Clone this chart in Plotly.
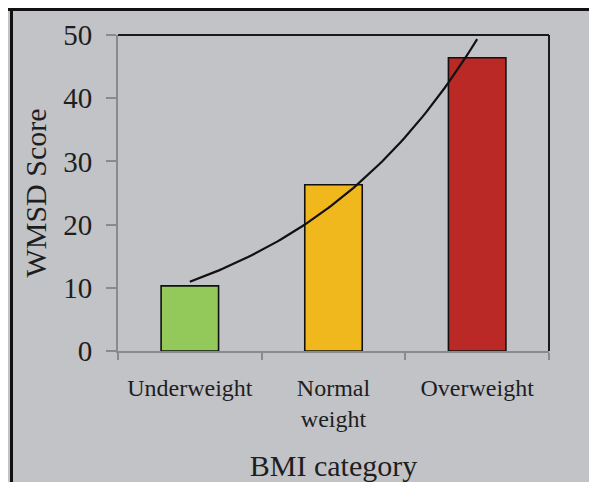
import numpy as np
import plotly.graph_objects as go

categories = ["Underweight", "Normal<br>weight", "Overweight"]
scores = [10.3, 26.3, 46.4]
bar_colors = ["#92c95a", "#f1b81d", "#ba2925"]
y_ticks = [0, 10, 20, 30, 40, 50]

x_pos = np.arange(1, len(categories) + 1)

# exponential trendline fitted to the bar values (as in a spreadsheet trendline)
b, ln_a = np.polyfit(x_pos, np.log(scores), 1)
xt = np.linspace(x_pos[0], x_pos[-1], 80)
yt = np.exp(ln_a) * np.exp(b * xt)

BG = "#c2c3c7"
FONT = "Liberation Serif"
TXT = "#1e1e1e"

fig = go.Figure()
fig.add_trace(go.Bar(
    x=x_pos, y=scores, width=0.4,
    marker=dict(color=bar_colors, line=dict(color="#111111", width=1.6)),
    showlegend=False, hoverinfo="skip"))
fig.add_trace(go.Scatter(
    x=xt, y=yt, mode="lines", line=dict(color="#111111", width=2.2),
    showlegend=False, hoverinfo="skip"))

L, R, T, B = 110, 56, 27, 139
W, H = 597, 482
pw, ph = W - L - R, H - T - B

def px_x(px):
    return (px - L) / pw

def px_y(py):
    return (H - B - py) / ph

shapes = [
    # top and right frame lines of plot area
    dict(type="line", xref="paper", yref="paper", x0=0, x1=1, y0=1, y1=1,
         line=dict(color="#1a1a1a", width=2)),
    dict(type="line", xref="paper", yref="paper", x0=1, x1=1, y0=0, y1=1,
         line=dict(color="#1a1a1a", width=2)),
    # outer frame black lines (top and left edges of the figure)
    dict(type="line", xref="paper", yref="paper", x0=px_x(0), x1=px_x(W),
         y0=px_y(1.5), y1=px_y(1.5), line=dict(color="#111111", width=3)),
    dict(type="line", xref="paper", yref="paper", x0=px_x(3.5), x1=px_x(3.5),
         y0=px_y(0), y1=px_y(H), line=dict(color="#111111", width=3)),
]

fig.update_layout(
    width=W, height=H,
    margin=dict(l=L, r=R, t=T, b=B, pad=0),
    paper_bgcolor=BG, plot_bgcolor=BG,
    font=dict(family=FONT, color=TXT),
    shapes=shapes,
    xaxis=dict(
        range=[0.5, 3.5], tickvals=list(x_pos), ticktext=categories,
        ticks="", showgrid=False, zeroline=False,
        showline=True, linecolor="#8a8a8a", linewidth=2,
        tickfont=dict(family=FONT, size=24, color=TXT),
        ticklabelstandoff=14,
        minor=dict(tickmode="linear", tick0=0.5, dtick=1, ticks="outside",
                   ticklen=7, tickcolor="#8a8a8a", tickwidth=2, showgrid=False),
        title=dict(text="BMI category", font=dict(family=FONT, size=30, color=TXT),
                   standoff=24),
        fixedrange=True,
    ),
    yaxis=dict(
        range=[0, 50], tickvals=y_ticks, showgrid=False, zeroline=False,
        showline=True, linecolor="#8a8a8a", linewidth=2,
        ticks="outside", ticklen=10, tickcolor="#8a8a8a", tickwidth=2,
        tickfont=dict(family=FONT, size=29, color=TXT),
        ticklabelstandoff=8,
        title=dict(text="WMSD Score", font=dict(family=FONT, size=30, color=TXT),
                   standoff=8),
        fixedrange=True,
    ),
)

fig.write_html("out.html")
